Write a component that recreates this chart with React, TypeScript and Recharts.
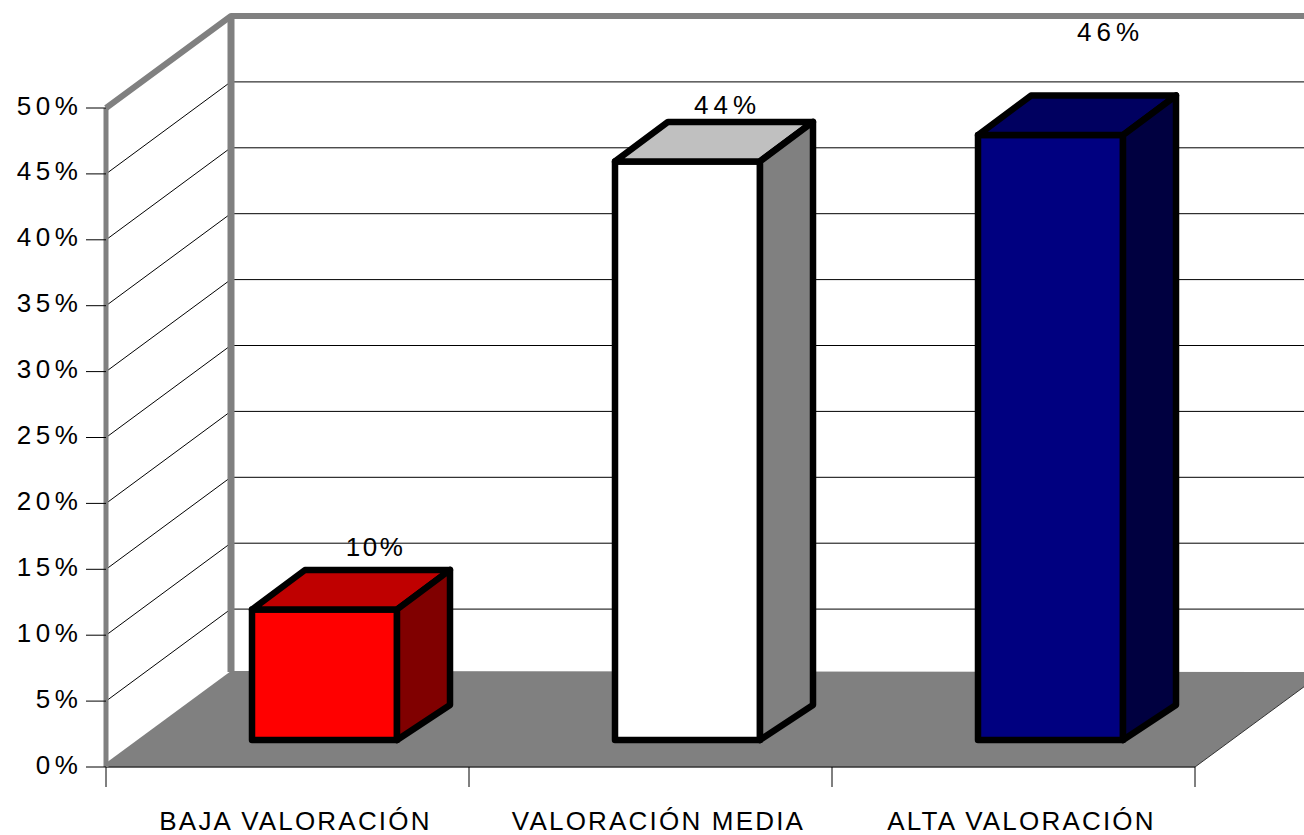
import { BarChart, Bar, XAxis, YAxis, CartesianGrid, LabelList } from "recharts";

const categories = ["BAJA VALORACIÓN", "VALORACIÓN MEDIA", "ALTA VALORACIÓN"];
const values = [9.9, 43.9, 45.9];
const yTicks = [0, 5, 10, 15, 20, 25, 30, 35, 40, 45, 50];

const frontColors = ["#ff0000", "#ffffff", "#000080"];
const topColors = ["#bf0000", "#c0c0c0", "#000060"];
const sideColors = ["#800000", "#808080", "#000040"];

// hand placed in the original, so they sit at odd distances from the bars
const labelNudges = [
  { dx: 48, dy: -22, tracking: 2.5 },
  { dx: 37, dy: -16, tracking: 5 },
  { dx: 57, dy: -62.5, tracking: 5 },
];

const data = categories.map((name, i) => ({ name, value: values[i] }));

const WIDTH = 1304;
const HEIGHT = 835;
const LEFT = 106;
const RIGHT = 1195;
const TOP = 108;
const BOTTOM = 767;
const BAND = (RIGHT - LEFT) / categories.length;

// 3d projection
const WALL_DX = 125;
const WALL_DY = -92;
const FLOOR_BACK = 672;
const BAR_DX = 53;
const BAR_DY = -39.5;
const BAR_BASE_DY = -35;
const BAR_SHIFT_X = 37;
const BAR_SHIFT_Y = -27;

const font = "'Liberation Sans', Arial, sans-serif";
const fontSize = 26;
const grey = "#808080";

function GridLine(props: any) {
  const y = props.y1;
  const isBottom = Math.abs(y - BOTTOM) < 1;
  const isTop = Math.abs(y - TOP) < 1;
  if (isBottom) {
    return (
      <g>
        <polygon
          points={`${LEFT},${BOTTOM} ${LEFT},${BOTTOM - 4} ${LEFT + WALL_DX},${FLOOR_BACK - 1} ${RIGHT + WALL_DX},${FLOOR_BACK} ${RIGHT + WALL_DX},${BOTTOM + WALL_DY} ${RIGHT},${BOTTOM}`}
          fill={grey}
        />
        <line x1={RIGHT} y1={BOTTOM} x2={RIGHT + WALL_DX} y2={BOTTOM + WALL_DY} stroke="#333333" strokeWidth={1} />
      </g>
    );
  }
  if (isTop) {
    return (
      <g stroke={grey} strokeWidth={6} fill="none">
        <path
          d={`M${LEFT},${TOP} L${LEFT + WALL_DX},${TOP + WALL_DY} L${WIDTH + 20},${TOP + WALL_DY}`}
          strokeLinejoin="round"
        />
        <line x1={LEFT + WALL_DX} y1={TOP + WALL_DY} x2={LEFT + WALL_DX} y2={FLOOR_BACK} strokeWidth={7} />
      </g>
    );
  }
  return (
    <g stroke="#000000" strokeWidth={1}>
      <line x1={LEFT} y1={y} x2={LEFT + WALL_DX - 3} y2={y + WALL_DY + 2} />
      <line x1={LEFT + WALL_DX} y1={y + WALL_DY} x2={WIDTH + 20} y2={y + WALL_DY} />
    </g>
  );
}

function Bar3D(props: any) {
  const { width, height, index } = props;
  const x = props.x + BAR_SHIFT_X;
  const y = props.y + BAR_SHIFT_Y;
  const r = x + width;
  const b = y + height;
  return (
    <g stroke="#000000" strokeWidth={6.5} strokeLinejoin="round">
      <polygon points={`${x},${y} ${r},${y} ${r},${b} ${x},${b}`} fill={frontColors[index]} />
      <polygon
        points={`${x},${y} ${x + BAR_DX},${y + BAR_DY} ${r + BAR_DX},${y + BAR_DY} ${r},${y}`}
        fill={topColors[index]}
      />
      <polygon
        points={`${r},${y} ${r + BAR_DX},${y + BAR_DY} ${r + BAR_DX},${b + BAR_BASE_DY} ${r},${b}`}
        fill={sideColors[index]}
      />
    </g>
  );
}

function ValueLabel(props: any) {
  const { x, y, width, value, index } = props;
  const nudge = labelNudges[index];
  return (
    <text
      x={x + width / 2 + BAR_SHIFT_X + nudge.dx + 3}
      y={y + BAR_SHIFT_Y + BAR_DY + nudge.dy + 8}
      textAnchor="middle"
      fontFamily={font}
      fontSize={fontSize}
      letterSpacing={nudge.tracking}
      fill="#000000"
    >
      {Math.round(value)}%
    </text>
  );
}

function YTick(props: any) {
  const { y, payload } = props;
  return (
    <text
      x={82.5}
      y={y + 6.5}
      textAnchor="end"
      fontFamily={font}
      fontSize={fontSize}
      letterSpacing={4.6}
      fill="#000000"
    >
      {payload.value}%
    </text>
  );
}

function XTick(props: any) {
  const { x, payload } = props;
  return (
    <g>
      <line x1={x - BAND / 2} y1={BOTTOM} x2={x - BAND / 2} y2={BOTTOM + 20} stroke="#000000" strokeWidth={1} />
      {payload.index === categories.length - 1 && (
        <line x1={x + BAND / 2} y1={BOTTOM} x2={x + BAND / 2} y2={BOTTOM + 20} stroke="#000000" strokeWidth={1} />
      )}
      <text
        x={x + 8}
        y={830}
        textAnchor="middle"
        fontFamily={font}
        fontSize={fontSize}
        letterSpacing={2.2}
        fill="#000000"
      >
        {payload.value}
      </text>
    </g>
  );
}

export default function App() {
  return (
    <div style={{ position: "absolute", left: 0, top: 0, width: WIDTH, height: HEIGHT, background: "#ffffff" }}>
      <BarChart
        width={WIDTH}
        height={HEIGHT}
        data={data}
        barSize={145}
        margin={{ top: TOP, right: WIDTH - RIGHT, bottom: 0, left: 0 }}
      >
        <CartesianGrid vertical={false} horizontal={GridLine} />
        <XAxis
          dataKey="name"
          height={HEIGHT - BOTTOM}
          interval={0}
          tickLine={false}
          axisLine={{ stroke: "#333333", strokeWidth: 1.5 }}
          tick={XTick}
        />
        <YAxis
          width={LEFT}
          domain={[0, 50]}
          ticks={yTicks}
          interval={0}
          tickSize={20}
          tickLine={{ stroke: "#000000", strokeWidth: 1 }}
          axisLine={{ stroke: grey, strokeWidth: 5 }}
          tick={YTick}
        />
        <Bar dataKey="value" shape={Bar3D} isAnimationActive={false}>
          <LabelList dataKey="value" content={ValueLabel} />
        </Bar>
      </BarChart>
    </div>
  );
}
